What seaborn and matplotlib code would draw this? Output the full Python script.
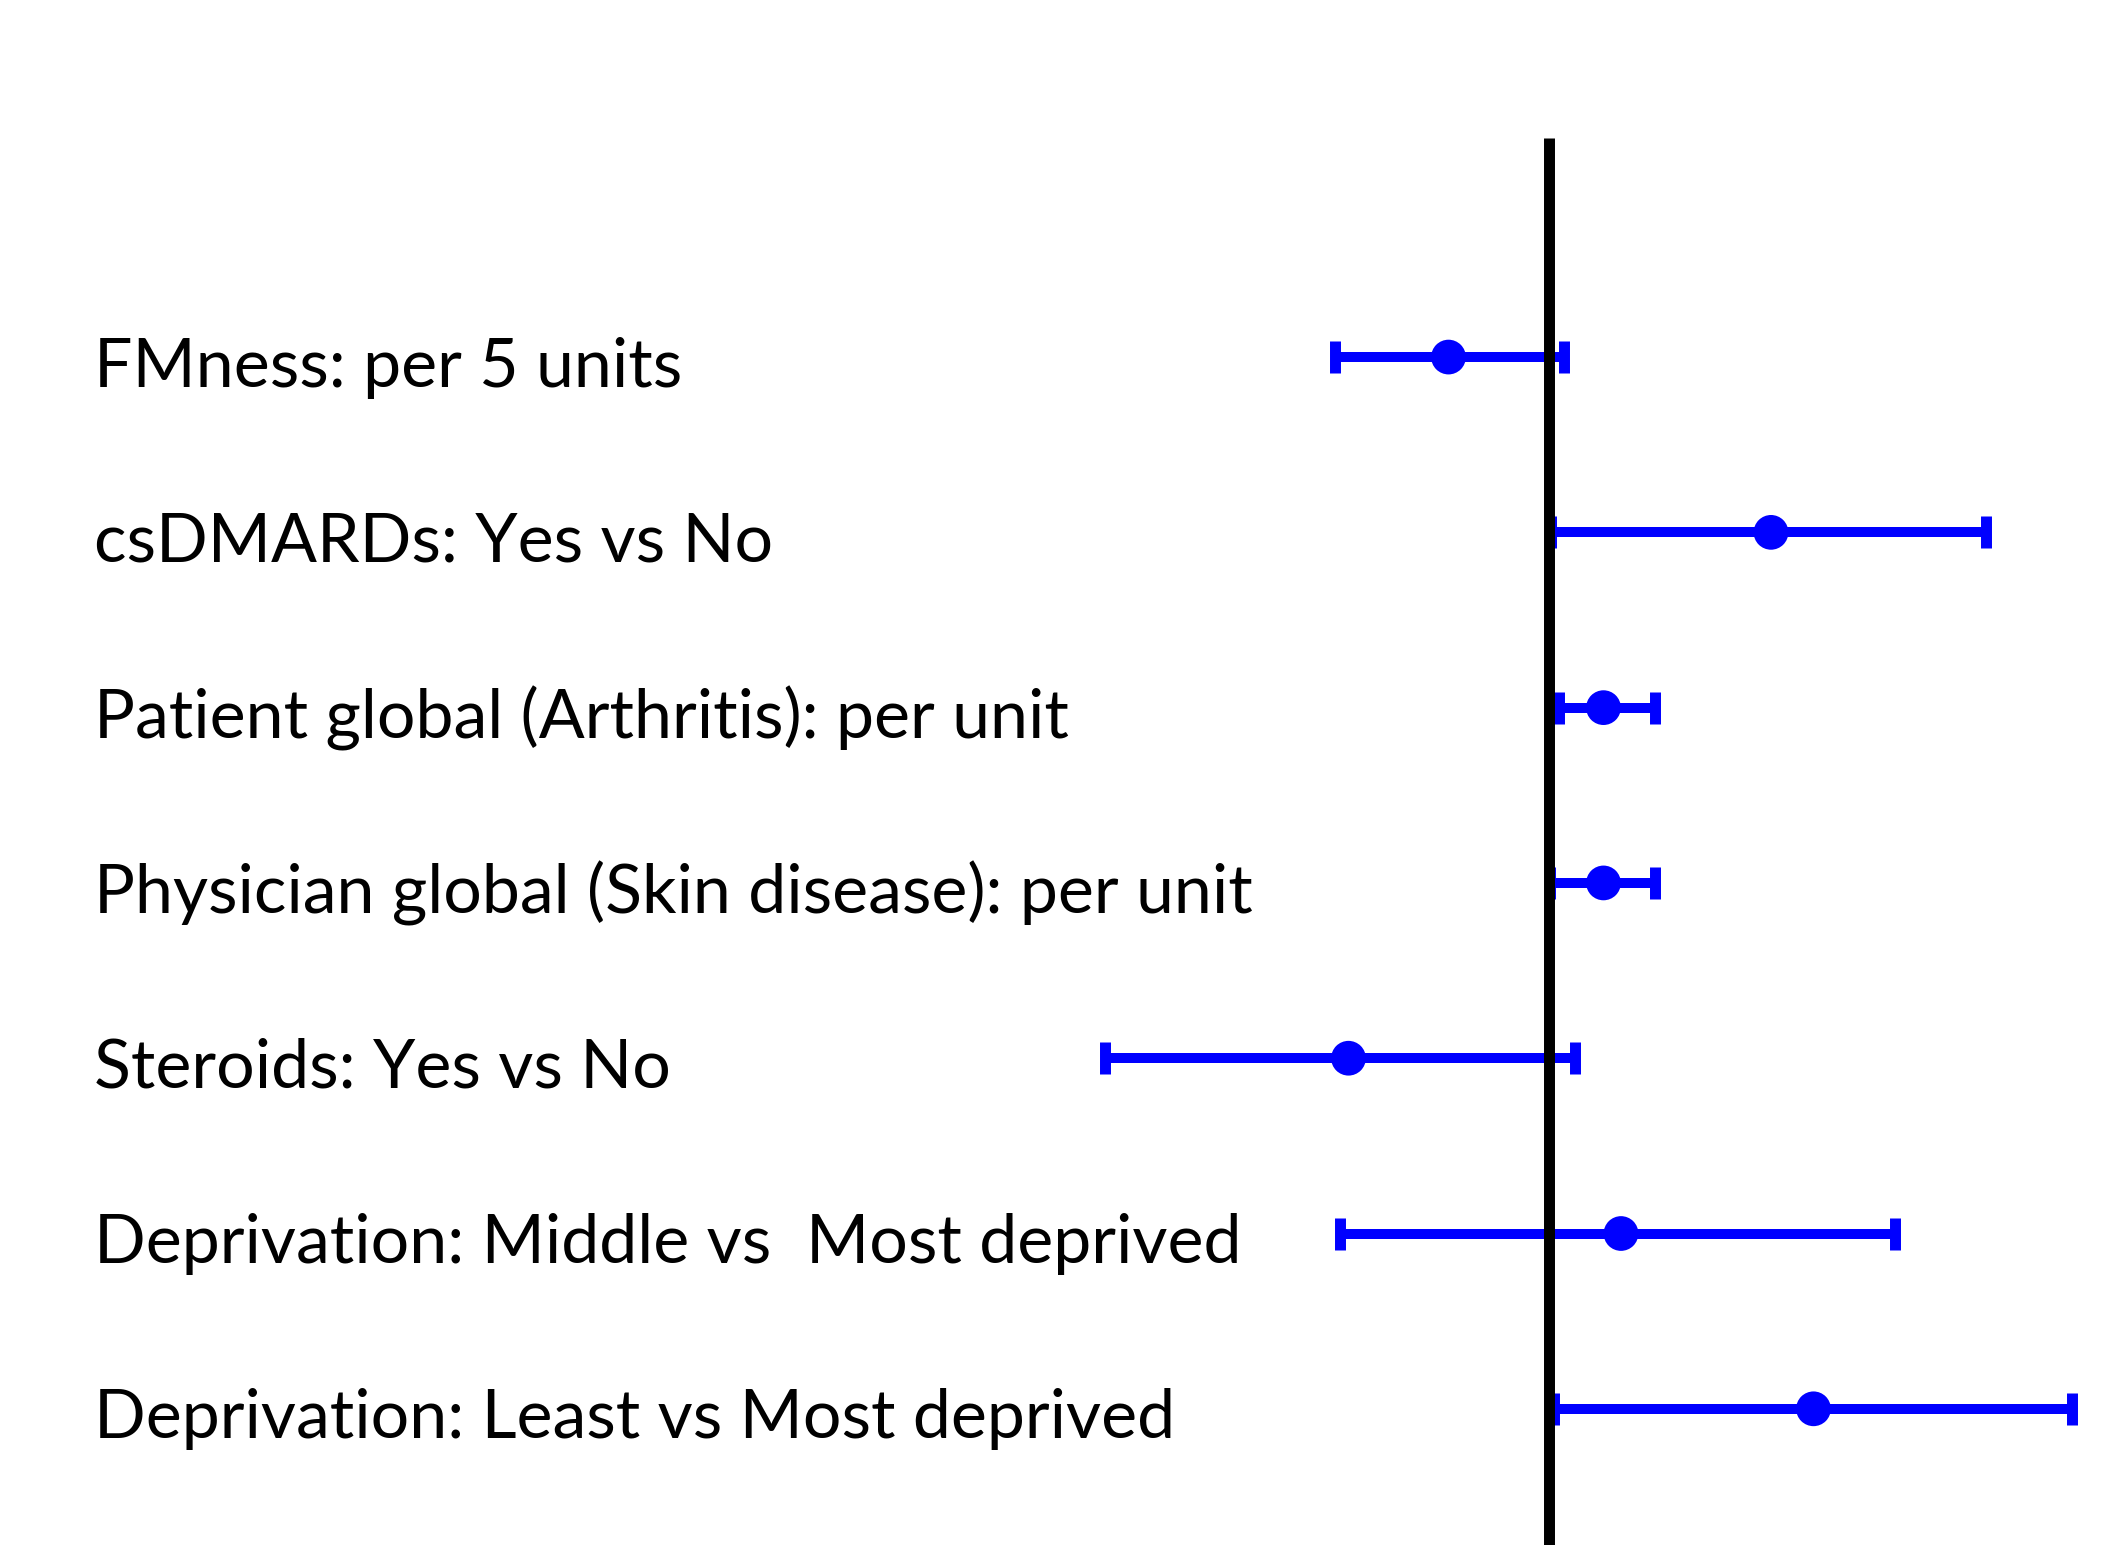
import numpy as np
import pandas as pd
import matplotlib
matplotlib.use("Agg")
import matplotlib.pyplot as plt
import matplotlib.transforms as mtransforms
import seaborn as sns

# Forest plot values (arbitrary effect scale, reference line at 1)
labels = [
    "FMness: per 5 units",
    "csDMARDs: Yes vs No",
    "Patient global (Arthritis): per unit",
    "Physician global (Skin disease): per unit",
    "Steroids: Yes vs No",
    "Deprivation: Middle vs  Most deprived",
    "Deprivation: Least vs Most deprived",
]
estimate = [0.80, 1.445, 1.11, 1.11, 0.60, 1.145, 1.53]
lower = [0.573, 1.005, 1.02, 1.003, 0.113, 0.583, 1.011]
upper = [1.031, 1.875, 1.213, 1.213, 1.053, 1.693, 2.047]
ref_value = 1.0

df = pd.DataFrame({"label": labels, "est": estimate, "lo": lower, "hi": upper})
df["row"] = np.arange(len(df))

sns.set_theme(style="white")
plt.rcParams["font.family"] = ["Lato", "DejaVu Sans"]

fig = plt.figure(figsize=(21.11, 15.45), dpi=100)
ax = fig.add_axes([0, 0, 1, 1])

blue = "#0000FF"
ax.errorbar(
    df["est"], df["row"],
    xerr=[df["est"] - df["lo"], df["hi"] - df["est"]],
    fmt="none", ecolor=blue, elinewidth=7.2, capsize=11.5, capthick=7.9,
    zorder=2,
)
sns.scatterplot(
    data=df, x="est", y="row", ax=ax, color=blue, s=25 ** 2,
    edgecolor="none", linewidth=0, zorder=3, legend=False,
)

ax.axvline(ref_value, ymin=0, ymax=0.911, color="black", lw=7.9, zorder=4,
           solid_capstyle="butt")

trans = mtransforms.blended_transform_factory(ax.transAxes, ax.transData)
for i, lab in enumerate(df["label"]):
    ax.text(0.0445, df["row"][i] + 0.06, lab, transform=trans, ha="left",
            va="center", fontsize=49, color="black")

ax.set_xlim(-2.097, 2.125)
ax.set_ylim(6.777, -2.037)
ax.axis("off")

fig.savefig("out.png", dpi=100, facecolor="white")
